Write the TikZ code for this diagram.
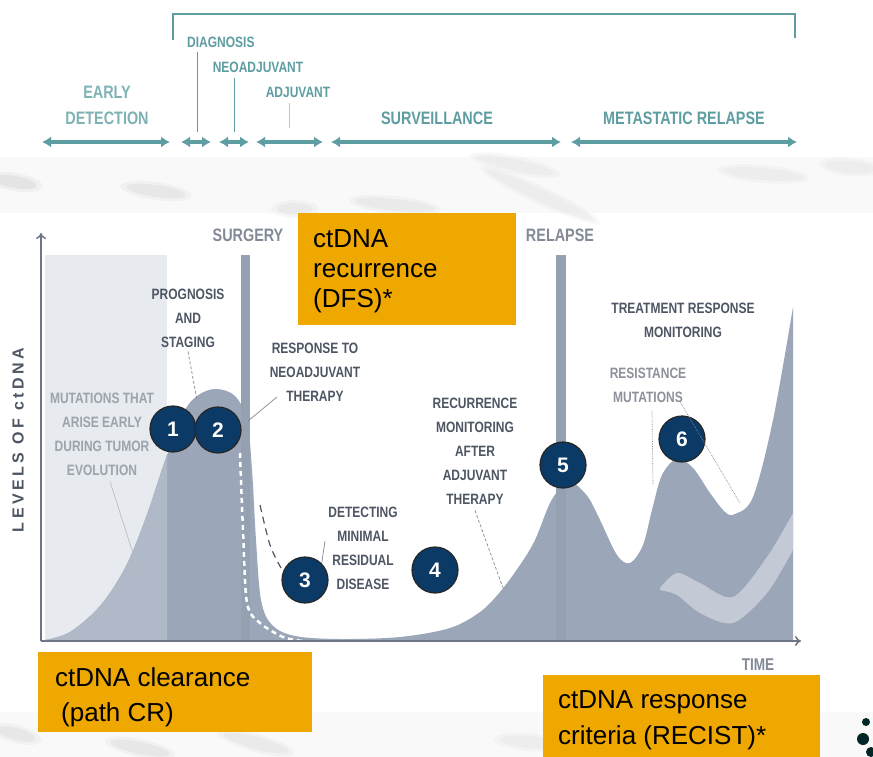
\documentclass[tikz,border=0pt]{standalone}
\usepackage{fontspec}
\setmainfont{Liberation Sans}
\newfontfamily\capsfont{Liberation Sans}[FakeStretch=0.8]
\newfontfamily\axisfont{Liberation Sans}[LetterSpace=22]
\usetikzlibrary{arrows.meta}
\definecolor{phaseteal}{HTML}{5E9DA1}
\definecolor{paleteal}{HTML}{7FB2B5}
\definecolor{labelgray}{HTML}{4E5664}
\definecolor{fadegray}{HTML}{9DA3AC}
\definecolor{panelgray}{HTML}{E7EAEE}
\definecolor{curvedark}{HTML}{9BA7B8}
\definecolor{curvelight}{HTML}{AFB9C7}
\definecolor{bargray}{HTML}{95A0B1}
\definecolor{ribbongray}{HTML}{C3CAD5}
\definecolor{axisgray}{HTML}{6C7686}
\definecolor{markernavy}{HTML}{0C3A67}
\definecolor{amber}{HTML}{EFA800}
\newcommand{\phase}[2]{\draw[phasearrow] (#1,142) -- (#2,142);}
\newcommand{\marker}[4]{\node[marker] (#1) at (#2,#3) {#4};}
\newcommand{\streak}[5]{\fill[gray!#5, opacity=0.3] (#1,#2) ellipse [x radius=#3, y radius=6, rotate=#4];
  \fill[gray!#5, opacity=0.2] (#1,#2) ellipse [x radius=#3+6, y radius=9, rotate=#4];}
\newcommand{\levelcurve}{plot[smooth, tension=0.55] coordinates {(45,640) (70,632) (100,606) (125,568) (145,520) (167,455) (185,410) (200,394) (217,389) (235,396) (247,420) (252,470) (256,540) (261,600) (272,625) (295,636) (340,639) (400,637) (450,628) (480,612) (500,592) (520,565) (535,540) (550,503) (562,487) (573,483) (588,497) (600,520) (617,555) (630,563) (643,545) (652,510) (662,475) (677,459) (693,468) (710,493) (725,512) (735,514) (753,497) (773,420) (793,307)}}
\tikzset{
  phasearrow/.style={draw=phaseteal, line width=3.5pt, {Latex[length=9pt,width=11pt]}-{Latex[length=9pt,width=11pt]}},
  toplabel/.style={font=\capsfont\bfseries\fontsize{18}{26}\selectfont, text=phaseteal, align=center, inner sep=0pt},
  subphase/.style={font=\capsfont\bfseries\fontsize{15}{18}\selectfont, text=phaseteal, inner sep=0pt},
  chartlabel/.style={font=\capsfont\bfseries\fontsize{15}{24}\selectfont, text=labelgray, align=center, inner sep=0pt},
  eventlabel/.style={font=\capsfont\bfseries\fontsize{18}{20}\selectfont, text=axisgray!85, inner sep=0pt},
  leader/.style={draw=labelgray!70, line width=0.7pt},
  marker/.style={circle, draw=black!85, line width=1.2pt, fill=markernavy, text=white, minimum size=46pt, inner sep=0pt, font=\fontsize{21}{21}\selectfont\bfseries},
  callout/.style={fill=amber, inner sep=0pt, anchor=north west},
  callouttext/.style={font=\fontsize{26}{30}\selectfont, align=left, inner sep=0pt, anchor=north west}
}
\begin{document}
\begin{tikzpicture}[x=1pt, y=-1pt]
  \useasboundingbox (0,0) rectangle (873,757);
  \fill[white] (0,0) rectangle (873,757);

  % blurred slide strips
  \fill[gray!5] (0,157) rectangle (873,213);
  \streak{15}{182}{22}{-10}{40}
  \streak{156}{191}{30}{-8}{35}
  \streak{295}{209}{18}{0}{30}
  \streak{395}{205}{40}{-6}{30}
  \streak{540}{195}{60}{-25}{25}
  \streak{515}{165}{40}{-12}{25}
  \streak{763}{174}{40}{-5}{25}
  \streak{850}{167}{25}{-5}{25}
  \fill[gray!5] (0,712) rectangle (873,757);
  \streak{16}{734}{20}{-15}{35}
  \streak{140}{748}{30}{-12}{35}
  \streak{256}{743}{34}{-15}{30}
  \streak{528}{742}{28}{-5}{25}
  \fill[black!70!teal] (866,722) circle (4);
  \fill[black!70!teal] (863,739) circle (6);
  \fill[black!70!teal] (871,752) circle (5);

  % treatment timeline
  \draw[phaseteal, line width=2.5pt] (173,40) -- (173,14) -- (795,14) -- (795,38);
  \node[subphase, anchor=west] (diagnosis) at (187,42) {DIAGNOSIS};
  \node[subphase] (neoadj) at (258,67) {NEOADJUVANT};
  \node[subphase] (adjuvant) at (298,92) {ADJUVANT};
  \node[toplabel, text=paleteal] (early) at (107,105) {EARLY\\DETECTION};
  \node[toplabel] (surveil) at (437,118) {SURVEILLANCE};
  \node[toplabel] (metastatic) at (684,118) {METASTATIC RELAPSE};
  \draw[phaseteal, line width=0.8pt] (197,52) -- (197,132);
  \draw[phaseteal, line width=0.8pt] (234,78) -- (234,132);
  \draw[phaseteal!50, line width=0.8pt] (289,103) -- (289,128);
  \phase{42}{170}
  \phase{181}{211}
  \phase{219}{249}
  \phase{256}{323}
  \phase{331}{561}
  \phase{571}{797}

  % ctDNA level over time
  \fill[panelgray] (45,255) rectangle (167,640);
  \fill[curvedark] \levelcurve -- (793,640) -- cycle;
  \begin{scope}
    \clip (45,255) rectangle (167,640);
    \fill[curvelight] \levelcurve -- (793,640) -- cycle;
  \end{scope}
  \fill[bargray] (241,255) rectangle (250,640);
  \fill[bargray] (556,255) rectangle (566,640);
  \fill[ribbongray] plot[smooth] coordinates {(660,588) (677,573) (700,583) (733,597) (767,557) (793,513)}
    -- plot[smooth] coordinates {(793,550) (767,593) (733,623) (700,613) (677,595) (660,590)} -- cycle;
  \draw[white, line width=2.5pt, dash pattern=on 5pt off 4pt] plot[smooth] coordinates {(240,453) (243,530) (247,603) (260,623) (283,637) (302,641)};
  \draw[labelgray, line width=1.2pt, dash pattern=on 7pt off 5pt] plot[smooth] coordinates {(260,505) (270,545) (281,568)};

  % axes
  \draw[axisgray, line width=1.5pt, -{To[length=6pt,width=10pt]}] (41,641) -- (41,233);
  \draw[axisgray, line width=1.5pt, -{To[length=6pt,width=10pt]}] (41,641) -- (801,641);
  \node[font=\axisfont\bfseries\fontsize{16}{16}\selectfont, text=labelgray, rotate=90] (levels) at (18,440) {LEVELS OF ctDNA};
  \node[eventlabel, font=\capsfont\bfseries\fontsize{17}{17}\selectfont] (time) at (758,665) {TIME};
  \node[eventlabel] (surgery) at (248,235) {SURGERY};
  \node[eventlabel] (relapse) at (560,235) {RELAPSE};

  % annotations
  \node[chartlabel] (prognosis) at (188,318) {PROGNOSIS\\AND\\STAGING};
  \node[chartlabel] (response) at (315,372) {RESPONSE TO\\NEOADJUVANT\\THERAPY};
  \node[chartlabel, text=fadegray] (mutations) at (102,434) {MUTATIONS THAT\\ARISE EARLY\\DURING TUMOR\\EVOLUTION};
  \node[chartlabel] (detecting) at (363,548) {DETECTING\\MINIMAL\\RESIDUAL\\DISEASE};
  \node[chartlabel] (recurrence) at (475,451) {RECURRENCE\\MONITORING\\AFTER\\ADJUVANT\\THERAPY};
  \node[chartlabel] (treatment) at (683,320) {TREATMENT RESPONSE\\MONITORING};
  \node[chartlabel, text=labelgray!65] (resistance) at (648,385) {RESISTANCE\\MUTATIONS};

  % numbered markers
  \marker{m1}{173}{429}{1}
  \marker{m2}{218}{430}{2}
  \marker{m3}{305}{580}{3}
  \marker{m4}{435}{570}{4}
  \marker{m5}{563}{465}{5}
  \marker{m6}{682}{439}{6}

  % leader lines
  \coordinate (progtip) at (197,400);
  \coordinate (resptip) at (248,421);
  \coordinate (muttip) at (140,575);
  \coordinate (recurtip) at (503,588);
  \coordinate (restip1) at (653,485);
  \coordinate (restip2) at (740,503);
  \draw[leader, densely dashed] ([yshift=-4pt]prognosis.south) -- (progtip);
  \draw[leader] (277,397) -- (resptip);
  \draw[leader, draw=fadegray!70] ([xshift=8pt,yshift=-6pt]mutations.south) -- (muttip);
  \draw[leader] (325,541) -- (m3.north east);
  \draw[leader, densely dashed] ([yshift=-6pt]recurrence.south) -- (recurtip);
  \draw[leader, densely dotted] ([xshift=4pt,yshift=-8pt]resistance.south) -- (restip1);
  \draw[leader, densely dotted] ([xshift=-6pt]resistance.south east) -- (restip2);

  % callouts
  \node[callout, minimum width=218pt, minimum height=112pt] (dfsbox) at (298,213) {};
  \node[callouttext] (dfs) at (313,229) {ctDNA\\recurrence\\(DFS)*};
  \node[callout, minimum width=274pt, minimum height=80pt] (pcrbox) at (38,652) {};
  \node[callouttext, font=\fontsize{26}{35}\selectfont] (pcr) at (55,667) {ctDNA clearance\\\hspace*{6pt}(path CR)};
  \node[callout, minimum width=277pt, minimum height=82pt] (recistbox) at (543,675) {};
  \node[callouttext, font=\fontsize{26}{36}\selectfont] (recist) at (558,690) {ctDNA response\\criteria (RECIST)*};
\end{tikzpicture}
\end{document}
